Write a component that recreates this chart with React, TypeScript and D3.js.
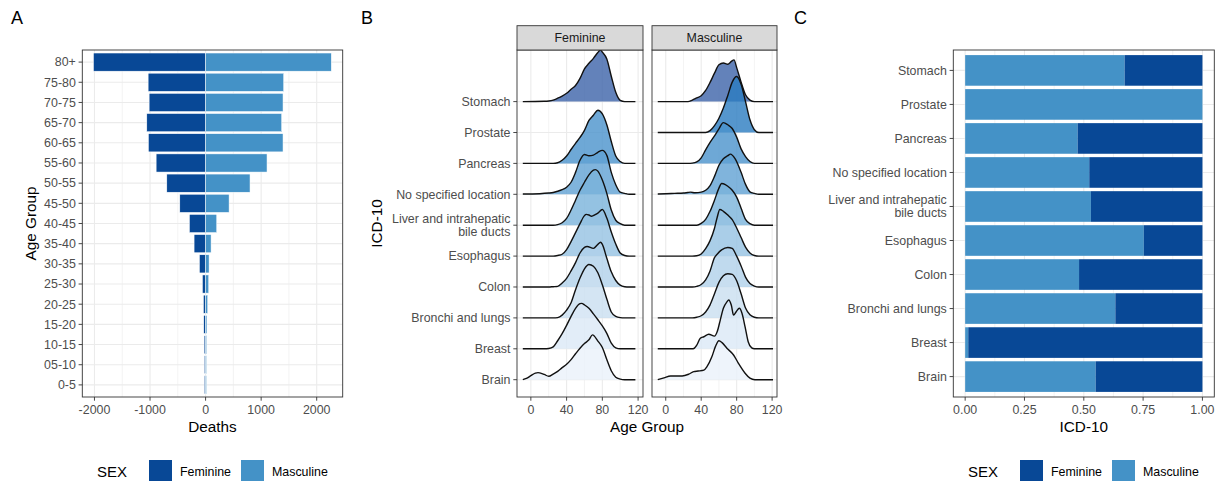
import React from 'react';
import * as d3 from 'd3';

// ---- panel A: deaths by age group and sex ----
const ageGroups = ['80+', '75-80', '70-75', '65-70', '60-65', '55-60', '50-55', '45-50', '40-45',
  '35-40', '30-35', '25-30', '20-25', '15-20', '10-15', '05-10', '0-5'];
const deathsFeminine = [-2018, -1034, -1016, -1058, -1029, -890, -698, -464, -291, -207, -111, -57, -39, -33, -26, -22, -22];
const deathsMasculine = [2263, 1406, 1394, 1370, 1394, 1106, 800, 423, 201, 99, 63, 57, 39, 24, 19, 16, 16];
const deathTicks = [-2000, -1000, 0, 1000, 2000];
const deathMinor = [-1500, -500, 500, 1500];

// ---- panel C: share of deaths by site ----
const icdSites = ['Stomach', 'Prostate', 'Pancreas', 'No specified location', 'Liver and intrahepatic\nbile ducts',
  'Esophagus', 'Colon', 'Bronchi and lungs', 'Breast', 'Brain'];
const masculineShare = [0.672, 1.0, 0.474, 0.523, 0.53, 0.753, 0.48, 0.633, 0.013, 0.55];
const shareTicks = [0, 0.25, 0.5, 0.75, 1];
const shareMinor = [0.125, 0.375, 0.625, 0.875];

// ---- panel B: age density ridges, [age, scaled density] ----
const ageTicks = [0, 40, 80, 120];
const ageMinor = [20, 60, 100];

const femStomach = [[15, 0.01], [20, 0.02], [25, 0.05], [30, 0.11], [35, 0.18], [40, 0.27], [45, 0.4], [50, 0.52], [55, 0.75], [60, 1.06], [65, 1.24], [70, 1.4], [75, 1.59], [78, 1.67], [80, 1.6], [85, 1.38], [90, 0.82], [95, 0.3], [100, 0.04], [105, 0]];
const femPancreas = [[25, 0], [30, 0.02], [35, 0.1], [40, 0.24], [45, 0.45], [50, 0.65], [55, 0.84], [60, 1.07], [65, 1.39], [70, 1.56], [75, 1.72], [80, 1.6], [85, 1.25], [90, 0.71], [95, 0.24], [100, 0.06], [105, 0]];
const femNoSpec = [[-9, 0.01], [10, 0.02], [20, 0.04], [25, 0.06], [30, 0.1], [35, 0.15], [40, 0.23], [45, 0.39], [50, 0.71], [55, 1.1], [60, 1.29], [65, 1.25], [70, 1.27], [75, 1.36], [80, 1.42], [85, 1.26], [90, 0.71], [95, 0.31], [100, 0.07], [105, 0.03], [110, 0]];
const femLiver = [[25, 0], [30, 0.02], [35, 0.08], [40, 0.22], [45, 0.49], [50, 0.81], [55, 1.13], [60, 1.39], [65, 1.63], [70, 1.78], [72, 1.8], [75, 1.75], [80, 1.46], [85, 1.03], [90, 0.49], [95, 0.16], [100, 0.05], [105, 0]];
const femEsophagus = [[25, 0], [30, 0.02], [35, 0.06], [40, 0.21], [45, 0.47], [50, 0.76], [55, 1.05], [60, 1.31], [62, 1.35], [65, 1.33], [68, 1.29], [72, 1.34], [75, 1.39], [80, 1.51], [85, 1.23], [90, 0.78], [95, 0.39], [100, 0.1], [105, 0.02], [110, 0]];
const femColon = [[20, 0], [25, 0.01], [30, 0.02], [35, 0.13], [40, 0.28], [45, 0.52], [50, 0.79], [55, 1.1], [60, 1.28], [63, 1.31], [70, 1.25], [75, 1.38], [78, 1.45], [80, 1.38], [85, 0.93], [90, 0.49], [95, 0.21], [100, 0.06], [105, 0.01], [110, 0]];
const femBronchi = [[25, 0], [30, 0.01], [35, 0.09], [40, 0.25], [45, 0.49], [50, 0.91], [55, 1.29], [60, 1.59], [65, 1.73], [70, 1.67], [75, 1.46], [80, 1.07], [85, 0.61], [90, 0.19], [95, 0.05], [100, 0.01], [105, 0]];
const femBreast = [[15, 0], [20, 0.01], [25, 0.06], [30, 0.26], [35, 0.49], [40, 0.76], [45, 1.05], [50, 1.31], [55, 1.46], [57, 1.47], [60, 1.42], [65, 1.31], [70, 1.13], [75, 0.94], [80, 0.74], [85, 0.5], [90, 0.18], [95, 0.03], [100, 0]];
const femBrain = [[-9, 0], [-5, 0.04], [0, 0.13], [5, 0.21], [8, 0.23], [10, 0.22], [15, 0.17], [20, 0.11], [25, 0.18], [30, 0.27], [35, 0.39], [40, 0.5], [45, 0.65], [50, 0.84], [55, 1.02], [60, 1.17], [65, 1.29], [69, 1.45], [75, 1.25], [80, 1.04], [85, 0.65], [90, 0.29], [95, 0.08], [100, 0.02], [105, 0]];

const mascStomach = [[25, 0], [30, 0.05], [35, 0.12], [40, 0.19], [45, 0.36], [50, 0.62], [55, 0.92], [60, 1.19], [65, 1.25], [70, 1.21], [74, 1.3], [77, 1.35], [80, 1.1], [85, 0.63], [90, 0.22], [95, 0.05], [100, 0]];
const mascProstate = [[45, 0], [50, 0.06], [55, 0.22], [60, 0.46], [65, 0.79], [70, 1.2], [75, 1.63], [80, 1.81], [85, 1.56], [90, 1.0], [95, 0.41], [100, 0.09], [105, 0]];
const mascPancreas = [[25, 0], [30, 0.01], [35, 0.05], [40, 0.18], [45, 0.44], [50, 0.68], [55, 0.89], [60, 1.12], [65, 1.32], [70, 1.25], [75, 1.13], [80, 0.85], [85, 0.47], [90, 0.22], [95, 0.06], [100, 0]];
const mascNoSpec = [[-9, 0.01], [0, 0.02], [10, 0.03], [20, 0.04], [25, 0.06], [28, 0.07], [33, 0.05], [40, 0.07], [45, 0.13], [50, 0.28], [55, 0.58], [60, 0.94], [65, 1.15], [70, 1.25], [73, 1.3], [78, 1.16], [85, 0.71], [90, 0.32], [95, 0.08], [100, 0.03], [105, 0]];
const mascLiver = [[35, 0], [40, 0.06], [45, 0.19], [50, 0.45], [55, 0.81], [60, 1.2], [63, 1.35], [65, 1.34], [70, 1.26], [75, 1.13], [80, 0.91], [85, 0.55], [90, 0.19], [95, 0.05], [100, 0]];
const mascEsophagus = [[30, 0], [35, 0.01], [40, 0.07], [45, 0.24], [50, 0.5], [55, 0.9], [58, 1.25], [61, 1.51], [65, 1.45], [70, 1.33], [75, 1.18], [80, 0.91], [85, 0.6], [90, 0.29], [95, 0.1], [100, 0.02], [105, 0]];
const mascColon = [[30, 0], [35, 0.02], [40, 0.08], [45, 0.23], [50, 0.52], [55, 0.95], [58, 1.06], [63, 1.2], [70, 1.28], [75, 1.25], [80, 1.0], [85, 0.68], [90, 0.32], [95, 0.11], [100, 0.03], [105, 0]];
const mascBronchi = [[30, 0], [35, 0.02], [40, 0.07], [45, 0.19], [50, 0.42], [55, 0.78], [60, 1.15], [65, 1.36], [70, 1.43], [75, 1.41], [80, 1.2], [85, 0.78], [90, 0.32], [95, 0.1], [100, 0.02], [105, 0]];
const mascBreast = [[31, 0], [35, 0.12], [39, 0.34], [43, 0.39], [48.5, 0.47], [55, 0.41], [58, 0.55], [61.5, 0.93], [65, 1.31], [69, 1.52], [71, 1.58], [74, 1.41], [76.5, 1.09], [79.5, 1.2], [83, 1.31], [86, 1.15], [89.5, 0.71], [93, 0.23], [97, 0.03], [100, 0]];
const mascBrain = [[-9, 0], [-2, 0.06], [5.5, 0.12], [18.5, 0.12], [26, 0.18], [31.5, 0.26], [36.5, 0.28], [43, 0.31], [46.5, 0.42], [52, 0.74], [56, 1.07], [60, 1.26], [63.5, 1.2], [69, 1.02], [76.5, 0.8], [82, 0.53], [89.5, 0.21], [95, 0.05], [100.5, 0]];

// same order as icdSites; no prostate ridge for women
const ridgesFeminine = [femStomach, null, femPancreas, femNoSpec, femLiver, femEsophagus, femColon, femBronchi, femBreast, femBrain];
const ridgesMasculine = [mascStomach, mascProstate, mascPancreas, mascNoSpec, mascLiver, mascEsophagus, mascColon, mascBronchi, mascBreast, mascBrain];
const ridgeFills = ['#3c63a9', '#2a7cc1', '#4a92cc', '#60a1d3', '#79b3db', '#95c2e2', '#b0d1ea', '#c9dff0', '#dbe8f6', '#eaf1fa'];

const sexLevels = ['Feminine', 'Masculine'];
const DARK = '#084896';
const LIGHT = '#4492c7';
const FONT = "'Liberation Sans', Arial, Helvetica, sans-serif";
const TICK_COL = '#4d4d4d';
const GRID = '#ebebeb';
const BORDER = '#333333';
const TS = 12.4;

function Label({ x, y, text, anchor = 'end', size = TS, fill = TICK_COL }) {
  const lines = text.split('\n');
  const lh = 13;
  const top = y - ((lines.length - 1) * lh) / 2 + size * 0.35;
  return (
    <text textAnchor={anchor} fontSize={size} fill={fill}>
      {lines.map((l, i) => (
        <tspan key={i} x={x} y={top + i * lh}>{l}</tspan>
      ))}
    </text>
  );
}

function PanelA() {
  const left = 82.3, right = 342.7, top = 50, bottom = 397;
  const x = d3.scaleLinear().domain([-2219, 2468]).range([left, right]);
  const y = d3.scalePoint().domain(ageGroups).range([top, bottom]).padding(0.6);
  const bh = y.step() * 0.9;
  return (
    <g>
      {deathMinor.map(t => <line key={'m' + t} x1={x(t)} x2={x(t)} y1={top} y2={bottom} stroke={GRID} strokeWidth={0.6} />)}
      {deathTicks.map(t => <line key={t} x1={x(t)} x2={x(t)} y1={top} y2={bottom} stroke={GRID} strokeWidth={1.1} />)}
      {ageGroups.map(g => <line key={g} x1={left} x2={right} y1={y(g)} y2={y(g)} stroke={GRID} strokeWidth={1.1} />)}
      {ageGroups.map((g, i) => (
        <g key={'b' + g}>
          <rect x={x(deathsFeminine[i])} width={x(0) - x(deathsFeminine[i])} y={y(g) - bh / 2} height={bh} fill={DARK} stroke="#fff" strokeWidth={0.5} />
          <rect x={x(0)} width={x(deathsMasculine[i]) - x(0)} y={y(g) - bh / 2} height={bh} fill={LIGHT} stroke="#fff" strokeWidth={0.5} />
        </g>
      ))}
      <rect x={left} y={top} width={right - left} height={bottom - top} fill="none" stroke={BORDER} strokeWidth={0.9} />
      {ageGroups.map(g => (
        <g key={'t' + g}>
          <line x1={left - 3.7} x2={left} y1={y(g)} y2={y(g)} stroke={BORDER} strokeWidth={0.9} />
          <Label x={left - 6.5} y={y(g)} text={g} />
        </g>
      ))}
      {deathTicks.map(t => (
        <g key={'x' + t}>
          <line x1={x(t)} x2={x(t)} y1={bottom} y2={bottom + 3.7} stroke={BORDER} strokeWidth={0.9} />
          <text x={x(t)} y={414} textAnchor="middle" fontSize={TS} fill={TICK_COL}>{t}</text>
        </g>
      ))}
      <text x={(left + right) / 2} y={432} textAnchor="middle" fontSize={15.3}>Deaths</text>
      <text transform={`translate(31,${(top + bottom) / 2}) rotate(-90)`} dy="0.35em" textAnchor="middle" fontSize={15.3}>Age Group</text>
      <text x={11} y={24} fontSize={18}>A</text>
    </g>
  );
}

function RidgeFacet({ ridges, sex, left, right, span, yIdx, top, bottom, first }) {
  const x = d3.scaleLinear().domain([-15.5, 125.5]).range([left, right]);
  const n = icdSites.length;
  const items = ridges.map((r, i) => {
    if (!r) return null;
    const base = n - 1 - i;
    let pts = r.slice();
    if (pts[0][0] > span[0]) pts = [[span[0], 0], ...pts];
    if (pts[pts.length - 1][0] < span[1]) pts = [...pts, [span[1], 0]];
    const area = d3.area().x(d => x(d[0])).y0(yIdx(base)).y1(d => yIdx(base + d[1])).curve(d3.curveMonotoneX);
    const line = d3.line().x(d => x(d[0])).y(d => yIdx(base + d[1])).curve(d3.curveMonotoneX);
    return (
      <g key={i}>
        <path d={area(pts)} fill={ridgeFills[i]} fillOpacity={0.8} />
        <path d={line(pts)} fill="none" stroke="#111" strokeWidth={1.4} />
      </g>
    );
  });
  return (
    <g>
      <defs>
        <clipPath id={'clip' + sex}><rect x={left} y={top} width={right - left} height={bottom - top} /></clipPath>
      </defs>
      {ageMinor.map(t => <line key={'m' + t} x1={x(t)} x2={x(t)} y1={top} y2={bottom} stroke={GRID} strokeWidth={0.6} />)}
      {ageTicks.map(t => <line key={t} x1={x(t)} x2={x(t)} y1={top} y2={bottom} stroke={GRID} strokeWidth={1.1} />)}
      {icdSites.map((s, i) => <line key={s} x1={left} x2={right} y1={yIdx(n - 1 - i)} y2={yIdx(n - 1 - i)} stroke={GRID} strokeWidth={1.1} />)}
      <g clipPath={`url(#clip${sex})`}>{items}</g>
      <rect x={left} y={top} width={right - left} height={bottom - top} fill="none" stroke={BORDER} strokeWidth={0.9} />
      <rect x={left} y={25.7} width={right - left} height={top - 25.7} fill="#d9d9d9" stroke={BORDER} strokeWidth={0.9} />
      <text x={(left + right) / 2} y={42.3} textAnchor="middle" fontSize={TS} fill="#1a1a1a">{sex}</text>
      {ageTicks.map(t => (
        <g key={'x' + t}>
          <line x1={x(t)} x2={x(t)} y1={bottom} y2={bottom + 3.7} stroke={BORDER} strokeWidth={0.9} />
          <text x={x(t)} y={414} textAnchor="middle" fontSize={TS} fill={TICK_COL}>{t}</text>
        </g>
      ))}
      {first && icdSites.map((s, i) => (
        <g key={'t' + s}>
          <line x1={left - 3.7} x2={left} y1={yIdx(n - 1 - i)} y2={yIdx(n - 1 - i)} stroke={BORDER} strokeWidth={0.9} />
          <Label x={left - 6.5} y={yIdx(n - 1 - i)} text={s} />
        </g>
      ))}
    </g>
  );
}

function PanelB() {
  const top = 50, bottom = 397;
  const yIdx = d3.scaleLinear().domain([-0.56, 10.67]).range([bottom, top]);
  return (
    <g>
      <RidgeFacet ridges={ridgesFeminine} sex={sexLevels[0]} left={517} right={643} span={[-9, 117]} yIdx={yIdx} top={top} bottom={bottom} first />
      <RidgeFacet ridges={ridgesMasculine} sex={sexLevels[1]} left={652} right={777} span={[-9, 121]} yIdx={yIdx} top={top} bottom={bottom} first={false} />
      <text x={647} y={432} textAnchor="middle" fontSize={15.3}>Age Group</text>
      <text transform={`translate(377,${(top + bottom) / 2}) rotate(-90)`} dy="0.35em" textAnchor="middle" fontSize={15.3}>ICD-10</text>
      <text x={361} y={24} fontSize={18}>B</text>
    </g>
  );
}

function PanelC() {
  const left = 953.3, right = 1214.3, top = 50, bottom = 397;
  const x = d3.scaleLinear().domain([-0.05, 1.05]).range([left, right]);
  const y = d3.scalePoint().domain(icdSites).range([top, bottom]).padding(0.6);
  const bh = y.step() * 0.9;
  const fmt = d3.format('.2f');
  return (
    <g>
      {shareMinor.map(t => <line key={'m' + t} x1={x(t)} x2={x(t)} y1={top} y2={bottom} stroke={GRID} strokeWidth={0.6} />)}
      {shareTicks.map(t => <line key={t} x1={x(t)} x2={x(t)} y1={top} y2={bottom} stroke={GRID} strokeWidth={1.1} />)}
      {icdSites.map(s => <line key={s} x1={left} x2={right} y1={y(s)} y2={y(s)} stroke={GRID} strokeWidth={1.1} />)}
      {icdSites.map((s, i) => (
        <g key={'b' + s}>
          <rect x={x(0)} width={x(masculineShare[i]) - x(0)} y={y(s) - bh / 2} height={bh} fill={LIGHT} />
          <rect x={x(masculineShare[i])} width={x(1) - x(masculineShare[i])} y={y(s) - bh / 2} height={bh} fill={DARK} />
        </g>
      ))}
      <rect x={left} y={top} width={right - left} height={bottom - top} fill="none" stroke={BORDER} strokeWidth={0.9} />
      {icdSites.map(s => (
        <g key={'t' + s}>
          <line x1={left - 3.7} x2={left} y1={y(s)} y2={y(s)} stroke={BORDER} strokeWidth={0.9} />
          <Label x={left - 6.5} y={y(s)} text={s} />
        </g>
      ))}
      {shareTicks.map(t => (
        <g key={'x' + t}>
          <line x1={x(t)} x2={x(t)} y1={bottom} y2={bottom + 3.7} stroke={BORDER} strokeWidth={0.9} />
          <text x={x(t)} y={414} textAnchor="middle" fontSize={TS} fill={TICK_COL}>{fmt(t)}</text>
        </g>
      ))}
      <text x={(left + right) / 2} y={432} textAnchor="middle" fontSize={15.3}>ICD-10</text>
      <text x={794} y={24} fontSize={18}>C</text>
    </g>
  );
}

function Legend({ x0, keys }) {
  return (
    <g>
      <text x={x0} y={476.5} fontSize={15}>SEX</text>
      {sexLevels.map((s, i) => (
        <g key={s}>
          <rect x={keys[i]} y={460} width={23} height={23} fill={i === 0 ? DARK : LIGHT} />
          <text x={keys[i] + 31} y={475.5} fontSize={TS}>{s}</text>
        </g>
      ))}
    </g>
  );
}

export default function App() {
  return (
    <svg width={1221} height={481} style={{ position: 'absolute', left: 0, top: 0, background: '#fff' }} fontFamily={FONT}>
      <rect width={1221} height={481} fill="#fff" />
      <PanelA />
      <PanelB />
      <PanelC />
      <Legend x0={97} keys={[149, 241]} />
      <Legend x0={968} keys={[1020, 1112]} />
    </svg>
  );
}
